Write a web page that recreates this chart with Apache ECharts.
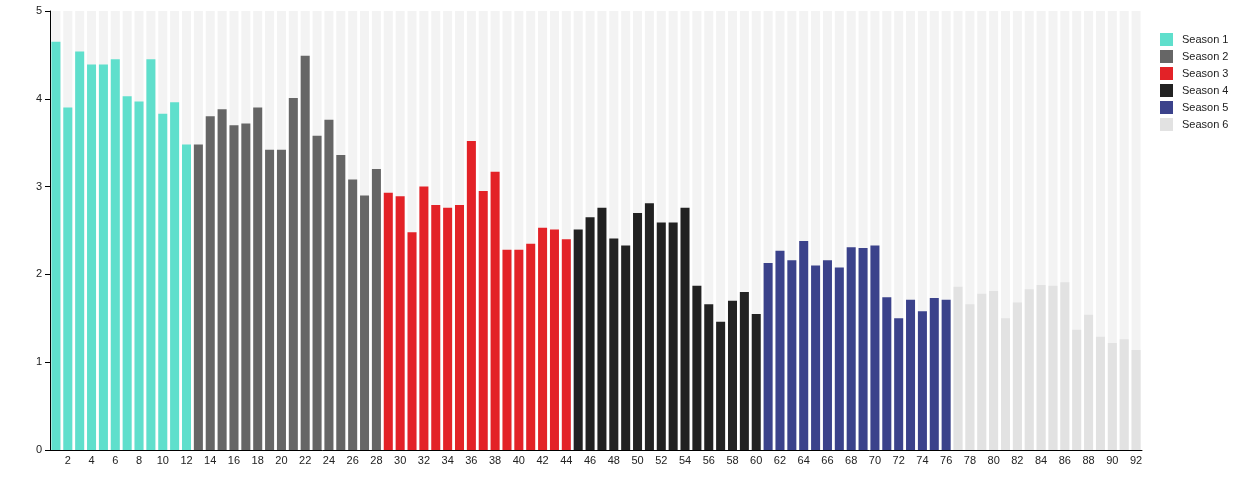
<!DOCTYPE html>
<html>
<head>
<meta charset="utf-8">
<script src="https://cdn.jsdelivr.net/npm/echarts@6/dist/echarts.min.js"></script>
<style>html,body{margin:0;padding:0;background:#fff}#c{width:1242px;height:500px}</style>
</head>
<body>
<div id="c"></div>
<script>
var seasonNames = ['Season 1','Season 2','Season 3','Season 4','Season 5','Season 6'];
var seasonColors = ['#5fdfcc','#666666','#e32227','#222222','#3b428b','#e2e2e2'];
var seasonLengths = [12,16,16,16,16,16];
var ratings = [
  4.65,3.90,4.54,4.39,4.39,4.45,4.03,3.97,4.45,3.83,3.96,3.48,
  3.48,3.80,3.88,3.70,3.72,3.90,3.42,3.42,4.01,4.49,3.58,3.76,3.36,3.08,2.90,3.20,
  2.93,2.89,2.48,3.00,2.79,2.76,2.79,3.52,2.95,3.17,2.28,2.28,2.35,2.53,2.51,2.40,
  2.51,2.65,2.76,2.41,2.33,2.70,2.81,2.59,2.59,2.76,1.87,1.66,1.46,1.70,1.80,1.55,
  2.13,2.27,2.16,2.38,2.10,2.16,2.08,2.31,2.30,2.33,1.74,1.50,1.71,1.58,1.73,1.71,
  1.86,1.66,1.78,1.81,1.50,1.68,1.83,1.88,1.87,1.91,1.37,1.54,1.29,1.22,1.26,1.14
];
var maxRating = 5;

var episodes = ratings.map(function(_, i){ return String(i + 1); });
var series = [{
  name: 'bg', type: 'bar', silent: true, barCategoryGap: '24%', barGap: '-100%',
  itemStyle: { color: '#f3f3f3' },
  data: ratings.map(function(){ return maxRating; }),
  animation: false, z: 1
}];
var start = 0;
seasonLengths.forEach(function(len, s){
  var data = ratings.map(function(v, i){ return (i >= start && i < start + len) ? v : '-'; });
  series.push({
    name: seasonNames[s], type: 'bar', stack: 'r', barCategoryGap: '24%', barGap: '-100%',
    itemStyle: { color: seasonColors[s] }, data: data, animation: false, z: 2
  });
  start += len;
});

var chart = echarts.init(document.getElementById('c'), null, { renderer: 'canvas' });
chart.setOption({
  animation: false,
  textStyle: { fontFamily: 'Liberation Sans, Arial, sans-serif' },
  grid: { left: 50, right: 100, top: 11, bottom: 50, containLabel: false },
  legend: {
    data: seasonNames, orient: 'vertical', left: 1155, top: 28,
    itemWidth: 13, itemHeight: 13, itemGap: 4, icon: 'rect',
    textStyle: { fontSize: 11, color: '#222', padding: [0, 0, 0, 4] }
  },
  xAxis: {
    type: 'category', data: episodes,
    axisLine: { lineStyle: { color: '#000', width: 1 } },
    axisTick: { show: false },
    axisLabel: { interval: function(i){ return i % 2 === 1; }, fontSize: 11, color: '#222', margin: 5 }
  },
  yAxis: {
    type: 'value', min: 0, max: 5, interval: 1,
    axisLine: { show: true, lineStyle: { color: '#000', width: 1 } },
    axisTick: { show: true, length: 5, lineStyle: { color: '#000' } },
    axisLabel: { fontSize: 11, color: '#222', margin: 8 },
    splitLine: { show: false }
  },
  series: series
});
</script>
</body>
</html>
